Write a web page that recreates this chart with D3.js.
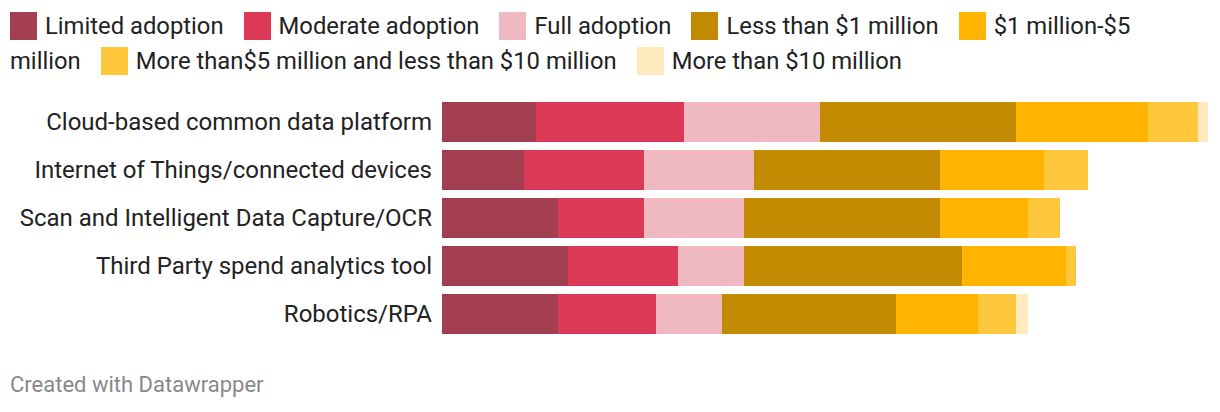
<!DOCTYPE html>
<html>
<head>
<meta charset="utf-8">
<script src="https://cdn.jsdelivr.net/npm/d3@7"></script>
<style>
  html, body { margin: 0; padding: 0; background: #fff; }
  body { width: 1220px; height: 412px; position: relative; overflow: hidden; font-family: Roboto, "Noto Sans", sans-serif; }
  #legend { position: absolute; left: 10px; top: 9px; width: 1180px; font-size: 23.8px; line-height: 35px; color: #222; }
  .item { display: inline; margin-right: 20px; }
  .sw { display: inline-block; width: 27px; height: 28px; vertical-align: -6px; margin-right: 8px; }
  #footer { position: absolute; left: 10px; top: 372px; font-size: 22px; color: #888; }
</style>
</head>
<body>
<div id="legend"></div>
<svg id="chart" width="1220" height="412" style="position:absolute;left:0;top:0"></svg>
<div id="footer">Created with Datawrapper</div>
<script>
const categories = [
  "Cloud-based common data platform",
  "Internet of Things/connected devices",
  "Scan and Intelligent Data Capture/OCR",
  "Third Party spend analytics tool",
  "Robotics/RPA"
];
const seriesNames = [
  "Limited adoption",
  "Moderate adoption",
  "Full adoption",
  "Less than $1 million",
  "$1 million-$5 million",
  "More than$5 million and less than $10 million",
  "More than $10 million"
];
const colors = ["#a43e51", "#db3956", "#f0b8c1", "#c28a00", "#ffb400", "#ffc73b", "#ffeabd"];

const limitedAdoption  = [23.5, 20.5, 29.0, 31.5, 29.0];
const moderateAdoption = [37.0, 30.0, 21.5, 27.5, 24.5];
const fullAdoption     = [34.0, 27.5, 25.0, 16.5, 16.5];
const lessThan1M       = [49.0, 46.5, 49.0, 54.5, 43.5];
const from1To5M        = [33.0, 26.0, 22.0, 26.0, 20.5];
const from5To10M       = [12.5, 11.0,  8.0,  2.5,  9.5];
const moreThan10M      = [ 2.5,  0.0,  0.0,  0.0,  3.0];

const seriesValues = [limitedAdoption, moderateAdoption, fullAdoption, lessThan1M, from1To5M, from5To10M, moreThan10M];

const table = categories.map((c, i) => {
  const row = { category: c };
  seriesNames.forEach((s, j) => row[s] = seriesValues[j][i]);
  return row;
});

// Legend
const leg = d3.select("#legend").selectAll(".item").data(seriesNames).join("span").attr("class", "item");
leg.append("span").attr("class", "sw").style("background", (d, i) => colors[i]);
leg.append("span").text(d => d);

// Chart
const svg = d3.select("#chart");
const stack = d3.stack().keys(seriesNames)(table);
const totals = table.map(r => d3.sum(seriesNames, s => r[s]));
const x = d3.scaleLinear().domain([0, d3.max(totals)]).range([442, 1208]);
const y = d3.scaleBand().domain(categories).range([98, 338]).paddingInner(8 / 48).paddingOuter(4 / 48);

svg.append("g").selectAll("g").data(stack).join("g")
  .attr("fill", (d, i) => colors[i])
  .selectAll("rect").data(d => d).join("rect")
  .attr("x", d => x(d[0]))
  .attr("y", d => y(d.data.category))
  .attr("width", d => Math.max(0, x(d[1]) - x(d[0])))
  .attr("height", y.bandwidth());

svg.append("g").selectAll("text").data(categories).join("text")
  .attr("x", 432)
  .attr("y", d => y(d) + y.bandwidth() / 2)
  .attr("dy", "0.35em")
  .attr("text-anchor", "end")
  .attr("font-size", 24)
  .attr("fill", "#222")
  .text(d => d);
</script>
</body>
</html>
